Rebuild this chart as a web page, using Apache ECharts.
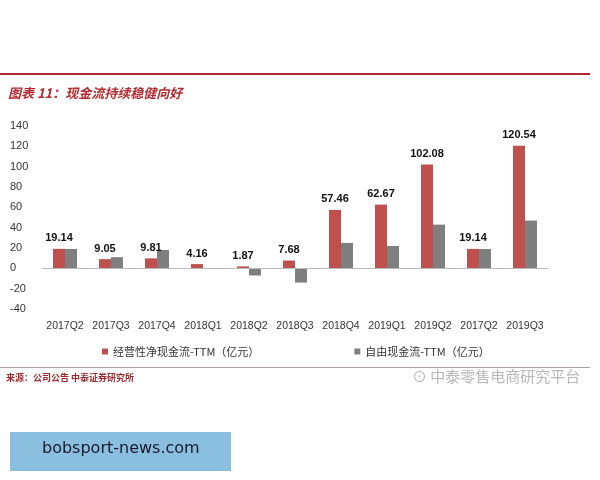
<!DOCTYPE html><html><head><meta charset="utf-8"><script src="https://cdn.jsdelivr.net/npm/echarts@6/dist/echarts.min.js"></script>
<style>body{margin:0;background:#fff}#c{width:600px;height:480px}</style></head><body><div id="c"></div><script>
const categories=['2017Q2','2017Q3','2017Q4','2018Q1','2018Q2','2018Q3','2018Q4','2019Q1','2019Q2','2017Q2','2019Q3'];
const operating=[19.14,9.05,9.81,4.16,1.87,7.68,57.46,62.67,102.08,19.14,120.54];
const freeCash=[19,11,18,0.3,-7,-14,25,22,43,19,47];
const yTicks=[-40,140,20];
const ch=echarts.init(document.getElementById('c'));
const F='"Noto Sans CJK SC","Noto Sans",sans-serif';
ch.setOption({animation:false,
graphic:[
{type:'rect',shape:{x:0,y:73,width:590,height:2},style:{fill:'#b22a2e'}},
{type:'text',left:8,top:87,style:{text:'图表 11：现金流持续稳健向好',fill:'#b22a2e',font:'italic bold 13px '+F}},
{type:'rect',shape:{x:0,y:367,width:590,height:1},style:{fill:'#b0a0a0'}},
{type:'text',left:6,top:373,style:{text:'来源：公司公告 中泰证券研究所',fill:'#9b2a2e',font:'bold 9px '+F}},
{type:'text',left:412,top:369,style:{text:'⊙ 中泰零售电商研究平台',fill:'#b8b8b8',font:'15px '+F}},
{type:'rect',shape:{x:10,y:432,width:221,height:39},style:{fill:'#8bbfdf'}},
{type:'text',left:42,top:441,style:{text:'bobsport-news.com',fill:'#1a1a2a',font:'16px "DejaVu Sans",sans-serif'}}
],
legend:{bottom:118,left:97,itemWidth:6,itemHeight:6,itemGap:95,icon:'rect',textStyle:{fontSize:11,color:'#333',fontFamily:F}},
grid:{left:42,right:52,top:126,bottom:171},
xAxis:{type:'category',data:categories,axisLine:{show:false},axisTick:{show:false},axisLabel:{interval:0,color:'#333',fontSize:10.5,margin:12}},
yAxis:{type:'value',min:yTicks[0],max:yTicks[1],interval:yTicks[2],splitLine:{show:false},axisLabel:{color:'#333',fontSize:11,margin:32,align:'left'}},
series:[
{name:'经营性净现金流-TTM（亿元）',type:'bar',data:operating,barWidth:12,barGap:'0%',itemStyle:{color:'#c0504d'},
label:{show:true,position:'top',fontWeight:'bold',fontSize:11,color:'#111'},
markLine:{silent:true,symbol:'none',label:{show:false},lineStyle:{color:'#bbb',type:'solid',width:1},data:[{yAxis:0}]}},
{name:'自由现金流-TTM（亿元）',type:'bar',data:freeCash,barWidth:12,itemStyle:{color:'#7f7f7f'}}
]});
</script></body></html>
